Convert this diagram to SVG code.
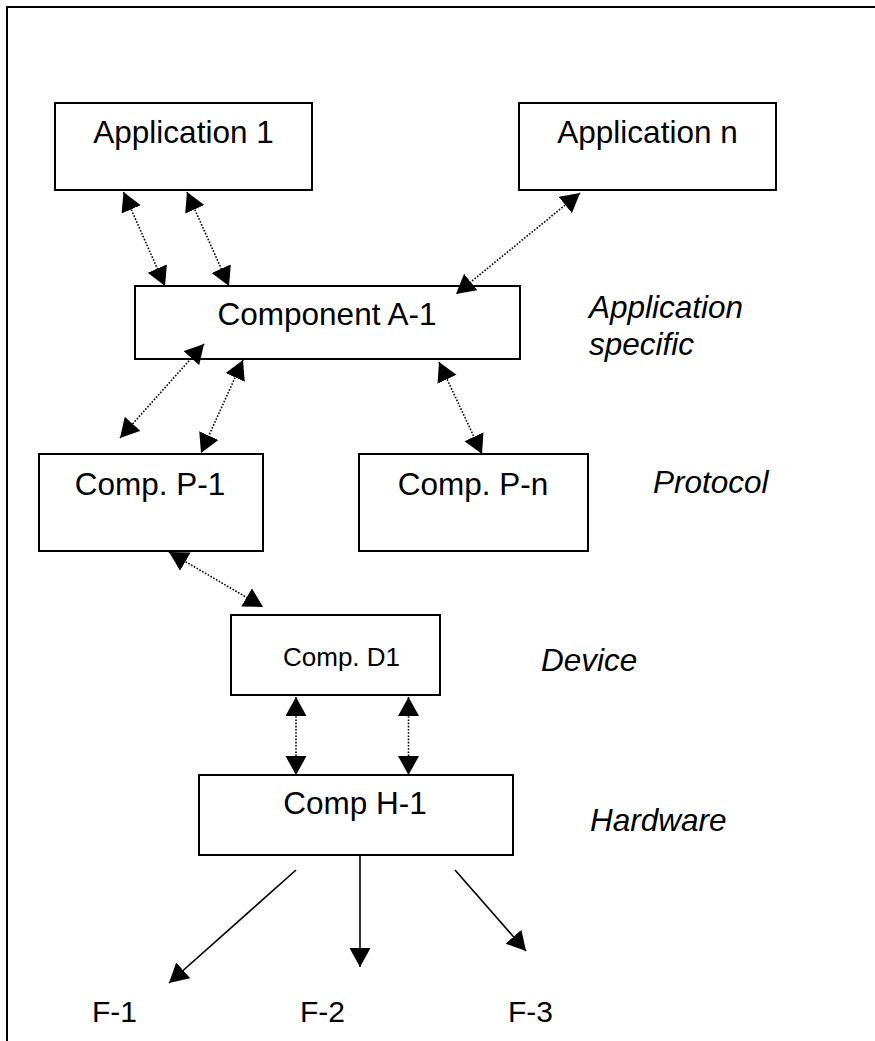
<svg xmlns="http://www.w3.org/2000/svg" width="875" height="1041" viewBox="0 0 875 1041">
  <style>
    .box { fill: #ffffff; stroke: #000000; stroke-width: 2; }
    .lbl { font-family: "Liberation Sans", Arial, sans-serif; font-size: 31.5px; fill: #000000; }
    .mid { text-anchor: middle; }
    .layer { font-family: "Liberation Sans", Arial, sans-serif; font-size: 31.5px; font-style: italic; fill: #000000; }
    .dotted { fill: none; stroke: #000000; stroke-width: 1.6; stroke-dasharray: 1.6 1.6; marker-start: url(#head); marker-end: url(#head); }
    .solid { fill: none; stroke: #000000; stroke-width: 1.6; marker-end: url(#head); }
    .frame { fill: none; stroke: #000000; stroke-width: 2; }
  </style>
  <defs>
    <marker id="head" markerUnits="userSpaceOnUse" markerWidth="20" markerHeight="22" refX="19" refY="10.5" orient="auto-start-reverse">
      <path d="M0,0 L19,10.5 L0,21 Z" fill="#000000"/>
    </marker>
  </defs>

  <rect width="875" height="1041" fill="#ffffff"/>

  <!-- outer frame: only top and left edges fall inside the page -->
  <path class="frame" d="M7,1041 V7 H875"/>

  <g id="app1">
    <rect class="box" x="55" y="103" width="257" height="87"/>
    <text class="lbl mid" x="183.5" y="143">Application 1</text>
  </g>
  <g id="appn">
    <rect class="box" x="519" y="103" width="257" height="87"/>
    <text class="lbl mid" x="647.5" y="143">Application n</text>
  </g>
  <g id="compA1">
    <rect class="box" x="135" y="286" width="385" height="73"/>
    <text class="lbl mid" x="327" y="325">Component A-1</text>
  </g>
  <g id="compP1">
    <rect class="box" x="39" y="454" width="224" height="97"/>
    <text class="lbl mid" x="150" y="495">Comp. P-1</text>
  </g>
  <g id="compPn">
    <rect class="box" x="359" y="454" width="229" height="97"/>
    <text class="lbl mid" x="473" y="495">Comp. P-n</text>
  </g>
  <g id="compD1">
    <rect class="box" x="231" y="615" width="209" height="80"/>
    <text class="lbl" x="283" y="666" style="font-size:26px">Comp. D1</text>
  </g>
  <g id="compH1">
    <rect class="box" x="199" y="775" width="314" height="80"/>
    <text class="lbl mid" x="355" y="814">Comp H-1</text>
  </g>

  <g id="f1"><text class="lbl" x="92" y="1022" style="font-size:30px">F-1</text></g>
  <g id="f2"><text class="lbl" x="300" y="1022" style="font-size:30px">F-2</text></g>
  <g id="f3"><text class="lbl" x="508" y="1022" style="font-size:30px">F-3</text></g>

  <!-- layer captions -->
  <g id="layer-app">
    <text class="layer" x="589" y="318">Application</text>
    <text class="layer" x="589" y="355">specific</text>
  </g>
  <g id="layer-protocol"><text class="layer" x="653" y="493">Protocol</text></g>
  <g id="layer-device"><text class="layer" x="541" y="671">Device</text></g>
  <g id="layer-hardware"><text class="layer" x="590" y="831">Hardware</text></g>

  <g id="connectors">
    <line class="dotted" x1="123.5" y1="192" x2="165" y2="286"/>
    <line class="dotted" x1="187" y1="192" x2="229" y2="286"/>
    <line class="dotted" x1="580" y1="193" x2="456" y2="294"/>
    <line class="dotted" x1="204" y1="344" x2="120" y2="438"/>
    <line class="dotted" x1="243" y1="360" x2="201" y2="453"/>
    <line class="dotted" x1="439" y1="362" x2="482" y2="454"/>
    <line class="dotted" x1="169" y1="552" x2="263" y2="607"/>
    <line class="dotted" x1="296" y1="697" x2="296" y2="775"/>
    <line class="dotted" x1="408.5" y1="697" x2="408.5" y2="775"/>
    <line class="solid" x1="296" y1="870" x2="169" y2="983"/>
    <line class="solid" x1="360" y1="855" x2="360" y2="967"/>
    <line class="solid" x1="455" y1="870" x2="526" y2="951"/>
  </g>
</svg>
